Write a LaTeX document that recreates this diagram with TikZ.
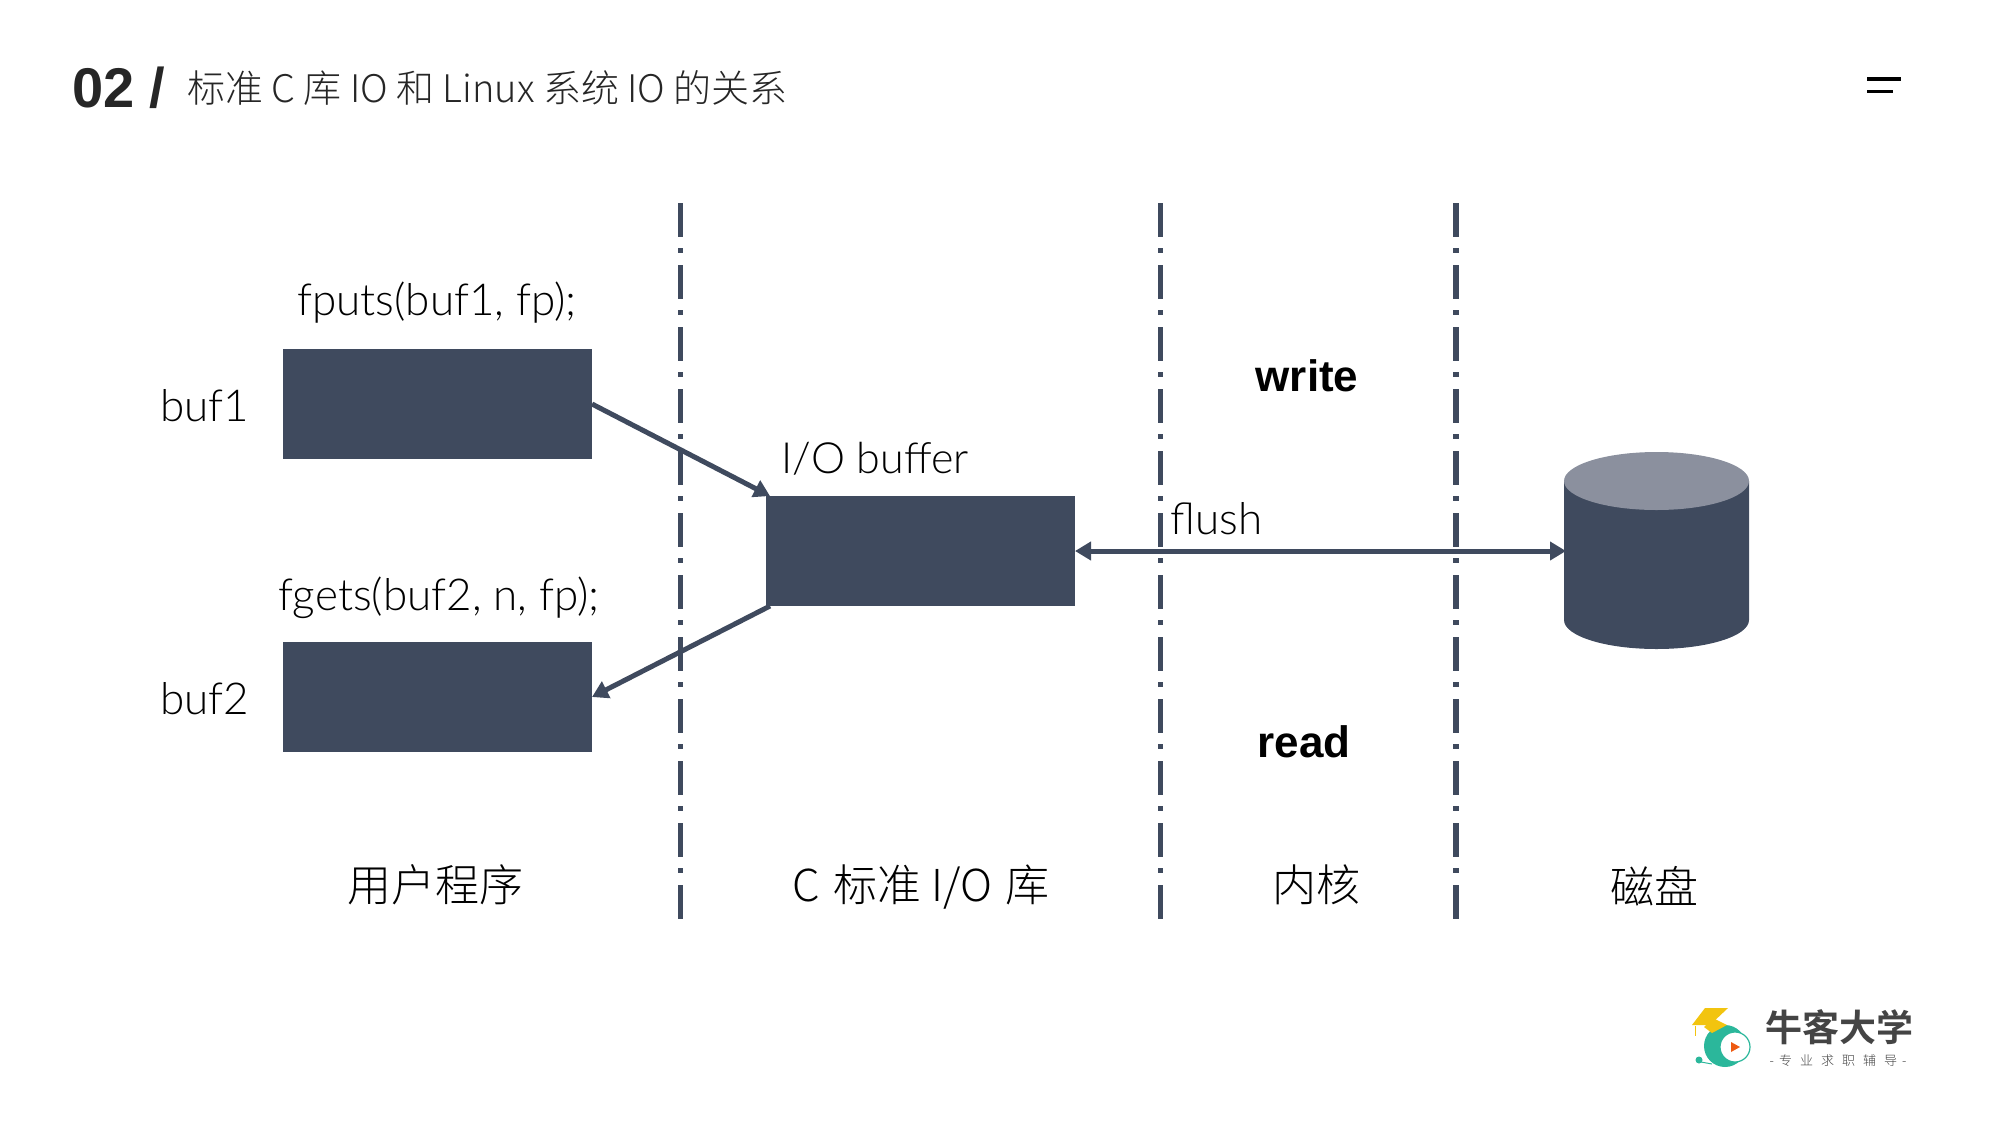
\documentclass[tikz,border=0pt]{standalone}
\usepackage{fontspec}
\usetikzlibrary{arrows.meta}
\setmainfont{Lato Light}
\newfontfamily\cjk{Noto Sans CJK SC Light}
\newfontfamily\cjkb{Noto Sans CJK SC}[BoldFont={* Bold}]
\newfontfamily\hv{Liberation Sans}
\definecolor{slate}{HTML}{3F4A5E}
\definecolor{disktop}{HTML}{8B909E}
\definecolor{logog}{HTML}{2BB79B}
\definecolor{logoy}{HTML}{F2C40F}
\definecolor{logoo}{HTML}{EE5A12}
\definecolor{logot}{HTML}{444444}
\tikzset{
  box/.style={fill=slate,draw=none,inner sep=0pt,outer sep=0pt,minimum width=309pt,minimum height=110pt},
  lab/.style={inner sep=0pt,outer sep=0pt,anchor=base,font=\fontsize{44}{50}\selectfont,text=black},
  wlab/.style={lab,font=\hv\bfseries\fontsize{44}{50}\selectfont},
  zh/.style={lab,font=\cjk\fontsize{44}{50}\selectfont},
  sep/.style={slate,line width=5.5pt,dash pattern=on 34pt off 11pt on 5pt off 12pt},
  conn/.style={slate,line width=5pt,-{Triangle[length=16pt,width=18pt]}},
  conn2/.style={slate,line width=5pt,{Triangle[length=16pt,width=18pt]}-{Triangle[length=16pt,width=18pt]}},
}
\begin{document}
\begin{tikzpicture}[x=1pt,y=-1pt]
\useasboundingbox (0,0) rectangle (1990,1120);
% title
\node[lab,anchor=base west,font=\hv\bfseries\fontsize{56}{60}\selectfont,text=black!85] (num) at (72,107) {02 /};
\node[lab,anchor=base west,font=\cjk\fontsize{38}{44}\selectfont,text=black!85] (title) at (187,102) {标准 C 库 IO 和 Linux 系统 IO 的关系};
% menu icon
\fill[black] (1867,77) rectangle (1901,81);
\fill[black] (1867,90) rectangle (1893,93);
% separators
\coordinate (s1a) at (680.5,203); \coordinate (s1b) at (680.5,920);
\coordinate (s2a) at (1160.5,203); \coordinate (s2b) at (1160.5,920);
\coordinate (s3a) at (1456,203); \coordinate (s3b) at (1456,920);
\draw[sep] (s1a) -- (s1b);
\draw[sep] (s2a) -- (s2b);
\draw[sep] (s3a) -- (s3b);
% boxes
\node[box] (b1) at (437.5,404) {};
\node[box] (b2) at (437.5,697) {};
\node[box] (io) at (920.5,551) {};
% disk
\node[inner sep=0pt,outer sep=0pt,minimum width=185pt,minimum height=197pt] (disk) at (1656.5,551) {};
\fill[slate] (1564,481) -- (1564,620) arc[start angle=180,end angle=360,x radius=92.5,y radius=-29] -- (1749,481) -- cycle;
\fill[disktop] (1656.5,481) ellipse[x radius=92.5,y radius=29];
% connectors
\coordinate (ion) at ([xshift=4pt]io.north west);
\coordinate (ios) at ([xshift=4pt]io.south west);
\coordinate (dw) at ([xshift=2pt]disk.west);
\draw[conn] (b1.east) -- (ion);
\draw[conn] (ios) -- (b2.east);
\draw[conn2] (io.east) -- (dw);
% labels
\node[lab] (l1) at (437,315) {fputs(buf1, fp);};
\node[lab] (l2) at (205,421) {buf1};
\node[lab,font=\fontsize{43}{50}\selectfont] (l3) at (875,473) {I/O buffer};
\node[lab] (l4) at (1216.5,534) {flush};
\node[wlab] (l5) at (1307,391) {write};
\node[wlab] (l6) at (1304,757) {read};
\node[lab] (l7) at (439,610) {fgets(buf2, n, fp);};
\node[lab] (l8) at (205,714.5) {buf2};
\node[zh] (l9) at (435,901) {用户程序};
\node[zh] (l10) at (921,901) {C\hspace{3.5pt} 标准 I/O\hspace{3.5pt} 库};
\node[zh] (l11) at (1316.5,901) {内核};
\node[zh] (l12) at (1654,903) {磁盘};
% logo
\fill[logog] (1725,1046) circle[radius=21];
\fill[white] (1735,1047) circle[radius=15];
\draw[logog,line width=1.2pt] (1735,1047) circle[radius=15];
\fill[logoo] (1731,1042) -- (1740,1047) -- (1731,1052) -- cycle;
\fill[logoy] (1692,1025) -- (1705,1008) -- (1728,1008) -- (1710,1025) -- cycle;
\fill[logoy] (1704,1027) -- (1713,1018) -- (1727,1025) -- (1712,1033) -- cycle;
\fill[logoy] (1695,1026) rectangle (1696,1036);
\fill[logog] (1699,1060) circle[radius=3.5];
\draw[logog,line width=1pt] (1701,1062) -- (1712,1064);
\node[lab,anchor=base,font=\cjkb\bfseries\fontsize{37}{40}\selectfont,text=logot] (lt1) at (1839,1041) {牛客大学};
\node[lab,anchor=base,font=\cjk\fontsize{13}{16}\selectfont,text=logot] (lt2) at (1838,1065) {-\hspace{5pt}专\hspace{8pt}业\hspace{8pt}求\hspace{8pt}职\hspace{8pt}辅\hspace{8pt}导\hspace{5pt}-};
\end{tikzpicture}
\end{document}
